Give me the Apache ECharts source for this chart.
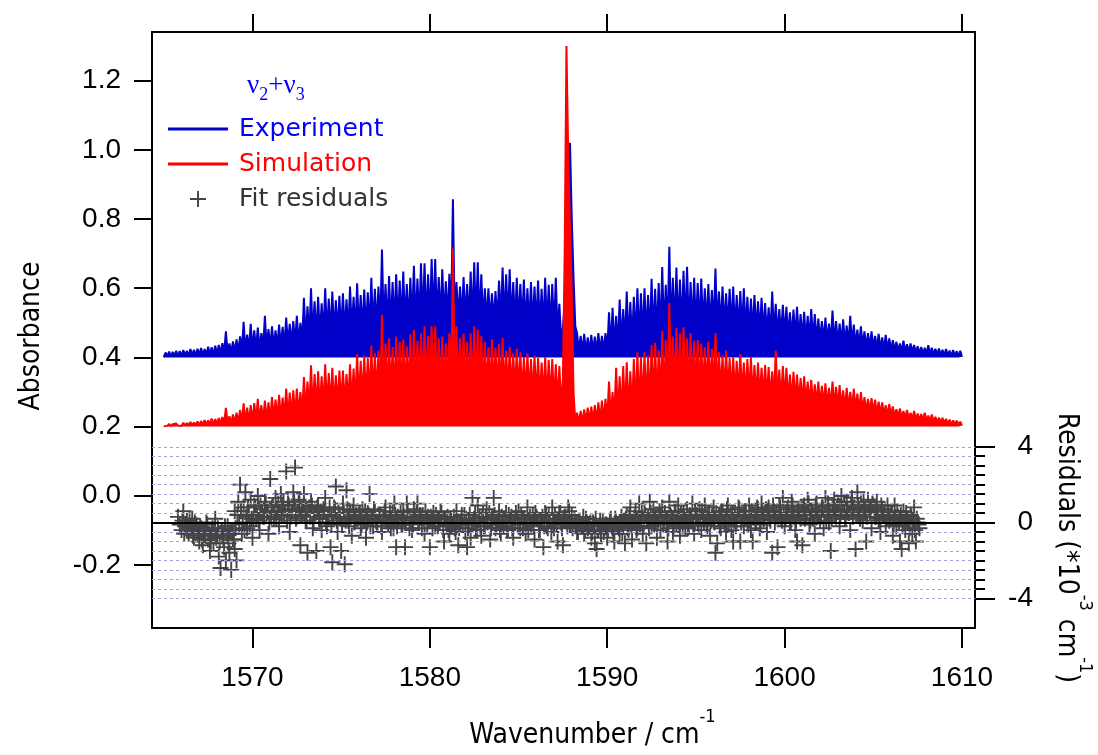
<!DOCTYPE html>
<html><head><meta charset="utf-8">
<script src="https://cdn.jsdelivr.net/npm/echarts@6/dist/echarts.min.js"></script>
<style>html,body{margin:0;padding:0;background:#fff}#c{width:1098px;height:755px}</style>
</head><body><div id="c"></div><script>
// Sampling grid of the spectra (cm-1)
const wnStart = 1565.0, wnStep = 0.1;
const expBaseline = 0.4, simBaseline = 0.2;
// Experiment absorbance, 1565.0 ... 1610.0 step 0.1 (one row per cm-1)
const experiment = [
0.401,0.414,0.403,0.417,0.402,0.416,0.404,0.419,0.403,0.418,
0.404,0.421,0.405,0.419,0.404,0.424,0.406,0.422,0.405,0.425,
0.406,0.427,0.408,0.424,0.407,0.431,0.409,0.429,0.408,0.434,
0.410,0.436,0.411,0.441,0.412,0.475,0.413,0.440,0.414,0.446,
0.415,0.452,0.417,0.461,0.418,0.503,0.420,0.466,0.421,0.497,
0.423,0.478,0.424,0.486,0.425,0.470,0.426,0.520,0.428,0.482,
0.429,0.490,0.430,0.478,0.431,0.495,0.432,0.488,0.433,0.515,
0.436,0.497,0.438,0.505,0.440,0.520,0.442,0.500,0.445,0.572,
0.450,0.548,0.455,0.600,0.458,0.562,0.460,0.575,0.462,0.556,
0.465,0.600,0.466,0.570,0.467,0.590,0.468,0.565,0.470,0.578,
0.470,0.585,0.472,0.568,0.473,0.605,0.474,0.575,0.475,0.614,
0.476,0.580,0.478,0.596,0.479,0.588,0.480,0.630,0.482,0.598,
0.484,0.605,0.485,0.712,0.487,0.612,0.488,0.635,0.490,0.618,
0.492,0.640,0.494,0.622,0.495,0.648,0.496,0.612,0.498,0.630,
0.498,0.665,0.500,0.628,0.502,0.672,0.503,0.672,0.504,0.640,
0.505,0.684,0.507,0.684,0.508,0.632,0.509,0.655,0.510,0.620,
0.510,0.642,0.511,0.857,0.510,0.618,0.509,0.605,0.508,0.632,
0.508,0.612,0.507,0.648,0.506,0.675,0.506,0.675,0.505,0.640,
0.504,0.600,0.503,0.600,0.503,0.585,0.502,0.592,0.502,0.622,
0.501,0.660,0.500,0.640,0.500,0.655,0.499,0.618,0.498,0.630,
0.496,0.612,0.495,0.625,0.493,0.600,0.492,0.618,0.490,0.605,
0.489,0.622,0.487,0.598,0.485,0.630,0.484,0.610,0.482,0.612,
0.478,0.630,0.470,0.555,0.455,0.485,0.560,0.700,0.900,1.020,
0.800,0.630,0.490,0.470,0.418,0.462,0.415,0.468,0.414,0.458,
0.414,0.465,0.415,0.460,0.416,0.470,0.417,0.462,0.418,0.470,
0.420,0.530,0.424,0.543,0.428,0.520,0.432,0.567,0.436,0.540,
0.440,0.590,0.443,0.560,0.446,0.575,0.449,0.600,0.452,0.585,
0.455,0.600,0.458,0.580,0.461,0.627,0.464,0.598,0.467,0.615,
0.470,0.661,0.473,0.610,0.476,0.720,0.478,0.630,0.480,0.660,
0.482,0.625,0.484,0.650,0.486,0.662,0.487,0.618,0.488,0.630,
0.489,0.615,0.490,0.628,0.490,0.600,0.490,0.612,0.489,0.595,
0.488,0.657,0.487,0.590,0.486,0.605,0.485,0.585,0.484,0.598,
0.483,0.605,0.481,0.580,0.480,0.592,0.478,0.600,0.477,0.575,
0.475,0.570,0.474,0.580,0.472,0.562,0.471,0.572,0.469,0.557,
0.468,0.545,0.466,0.590,0.465,0.555,0.463,0.540,0.462,0.552,
0.460,0.546,0.459,0.530,0.457,0.538,0.456,0.546,0.455,0.525,
0.454,0.532,0.452,0.520,0.451,0.540,0.450,0.525,0.448,0.512,
0.447,0.505,0.446,0.515,0.444,0.498,0.443,0.535,0.442,0.505,
0.440,0.498,0.439,0.510,0.438,0.492,0.436,0.520,0.435,0.495,
0.434,0.480,0.432,0.490,0.431,0.475,0.430,0.470,0.428,0.475,
0.427,0.462,0.426,0.468,0.424,0.458,0.423,0.465,0.422,0.455,
0.420,0.450,0.419,0.445,0.418,0.440,0.417,0.448,0.416,0.438,
0.415,0.440,0.414,0.436,0.413,0.432,0.412,0.430,0.411,0.428,
0.410,0.435,0.409,0.428,0.408,0.425,0.407,0.426,0.406,0.422,
0.405,0.424,0.405,0.420,0.404,0.421,0.404,0.418,0.403,0.419,
0.402];
// Simulation absorbance, same grid
const simulation = [
0.201,0.206,0.202,0.208,0.201,0.207,0.202,0.209,0.203,0.208,
0.202,0.211,0.203,0.210,0.203,0.213,0.204,0.212,0.204,0.215,
0.204,0.216,0.205,0.219,0.205,0.218,0.206,0.223,0.206,0.222,
0.207,0.225,0.208,0.228,0.208,0.254,0.209,0.230,0.210,0.235,
0.210,0.240,0.211,0.248,0.212,0.267,0.212,0.255,0.213,0.262,
0.214,0.268,0.215,0.280,0.216,0.262,0.217,0.275,0.218,0.270,
0.219,0.285,0.220,0.278,0.222,0.292,0.223,0.284,0.224,0.310,
0.226,0.298,0.228,0.305,0.230,0.310,0.232,0.300,0.235,0.343,
0.240,0.330,0.244,0.377,0.248,0.352,0.250,0.360,0.252,0.345,
0.255,0.380,0.257,0.355,0.258,0.370,0.260,0.348,0.262,0.362,
0.264,0.362,0.266,0.352,0.268,0.380,0.270,0.368,0.272,0.410,
0.274,0.390,0.276,0.405,0.278,0.398,0.280,0.434,0.282,0.412,
0.284,0.420,0.286,0.523,0.288,0.440,0.290,0.455,0.292,0.430,
0.294,0.460,0.296,0.445,0.297,0.452,0.298,0.432,0.299,0.467,
0.300,0.480,0.301,0.448,0.302,0.470,0.303,0.490,0.304,0.462,
0.305,0.490,0.306,0.490,0.307,0.455,0.308,0.460,0.308,0.440,
0.309,0.470,0.309,0.715,0.309,0.490,0.309,0.455,0.308,0.468,
0.308,0.445,0.308,0.470,0.307,0.490,0.307,0.480,0.306,0.462,
0.305,0.445,0.304,0.430,0.303,0.452,0.302,0.428,0.301,0.440,
0.300,0.457,0.299,0.420,0.298,0.430,0.297,0.412,0.296,0.425,
0.294,0.415,0.292,0.400,0.290,0.412,0.288,0.395,0.286,0.405,
0.284,0.398,0.282,0.385,0.280,0.400,0.278,0.392,0.276,0.395,
0.274,0.380,0.268,0.375,0.260,0.340,0.700,1.300,0.985,0.777,
0.586,0.300,0.212,0.240,0.210,0.245,0.212,0.250,0.213,0.255,
0.214,0.258,0.215,0.262,0.216,0.270,0.217,0.275,0.218,0.280,
0.220,0.330,0.223,0.300,0.226,0.370,0.229,0.345,0.232,0.375,
0.236,0.386,0.240,0.360,0.244,0.395,0.248,0.415,0.252,0.400,
0.256,0.415,0.260,0.405,0.264,0.435,0.268,0.442,0.272,0.420,
0.276,0.477,0.280,0.450,0.284,0.557,0.288,0.460,0.292,0.485,
0.295,0.470,0.298,0.487,0.300,0.455,0.302,0.470,0.303,0.448,
0.304,0.450,0.304,0.440,0.304,0.430,0.303,0.445,0.302,0.425,
0.301,0.470,0.300,0.415,0.299,0.405,0.298,0.420,0.297,0.398,
0.295,0.400,0.294,0.390,0.292,0.410,0.291,0.385,0.290,0.395,
0.288,0.400,0.287,0.378,0.286,0.385,0.284,0.370,0.283,0.378,
0.282,0.372,0.280,0.360,0.279,0.420,0.278,0.365,0.276,0.375,
0.275,0.370,0.274,0.350,0.272,0.358,0.271,0.350,0.270,0.340,
0.268,0.345,0.267,0.330,0.266,0.335,0.264,0.322,0.263,0.330,
0.262,0.318,0.260,0.325,0.259,0.312,0.258,0.330,0.256,0.315,
0.255,0.320,0.254,0.305,0.252,0.312,0.251,0.300,0.250,0.310,
0.248,0.295,0.246,0.300,0.245,0.285,0.243,0.280,0.242,0.282,
0.240,0.278,0.238,0.272,0.236,0.270,0.235,0.262,0.233,0.265,
0.231,0.258,0.229,0.250,0.228,0.252,0.226,0.245,0.225,0.248,
0.223,0.240,0.222,0.245,0.220,0.238,0.219,0.236,0.218,0.240,
0.216,0.232,0.215,0.235,0.214,0.228,0.212,0.226,0.211,0.225,
0.210,0.222,0.208,0.220,0.207,0.218,0.206,0.217,0.205,0.214,
0.203];
// Fit residuals, individual points [wavenumber, residual in 1e-3 cm-1]
const residuals = [
[1565.8,0.3],[1565.9,-0.1],[1566.0,-0.4],[1566.1,0.6],[1566.2,-0.2],[1566.3,0.1],[1566.4,-0.6],[1566.5,-0.3],[1566.6,0.2],[1566.7,-0.8],[1566.8,-0.1],[1566.9,-0.5],[1567.0,-1.0],
[1567.1,-0.3],[1567.2,-1.2],[1567.3,-0.6],[1567.4,0.0],[1567.5,-0.9],[1567.6,-1.5],[1567.7,-0.4],[1567.8,-1.1],[1567.9,0.2],[1568.0,-0.7],[1568.1,-1.8],[1568.2,-2.4],[1568.3,-0.5],[1568.4,-1.3],[1568.5,-2.0],[1568.6,-0.2],[1568.7,-1.6],[1568.8,-2.5],[1568.9,-0.9],[1569.0,0.6],[1569.0,-1.4],[1569.1,-2.0],
[1569.2,1.1],[1569.3,2.0],[1569.4,-0.6],[1569.5,0.8],[1569.6,1.6],[1569.7,-0.3],[1569.8,0.4],[1569.9,1.2],[1570.0,-0.8],[1570.1,0.9],[1570.2,0.2],[1570.3,1.4],[1570.4,-0.4],[1570.5,0.7],
[1570.6,0.3],[1570.7,1.1],[1570.8,0.5],[1570.9,-0.6],[1571.0,2.3],[1571.1,0.8],[1571.2,0.2],[1571.3,1.3],[1571.4,0.6],[1571.5,-0.2],[1571.6,1.5],[1571.7,0.9],[1571.8,0.4],[1571.9,2.7],[1572.0,1.0],[1572.1,-0.5],[1572.2,0.7],[1572.3,1.6],[1572.4,2.9],[1572.5,0.3],[1572.6,1.2],[1572.7,-1.2],[1572.8,0.6],[1572.9,1.5],[1573.0,0.1],[1573.1,-1.6],[1573.2,0.8],[1573.3,1.1],[1573.4,-0.3],
[1573.5,0.5],[1573.6,-1.5],[1573.7,0.9],[1573.8,0.2],[1573.9,-0.4],[1574.0,0.7],[1574.1,1.3],[1574.2,-0.2],[1574.3,0.4],[1574.4,-1.3],[1574.5,-2.1],[1574.6,0.8],[1574.7,1.9],[1574.8,-0.5],[1574.9,0.3],[1575.0,-1.5],[1575.1,1.0],[1575.2,-2.2],[1575.3,1.7],[1575.4,0.1],[1575.5,0.6],[1575.6,-0.7],[1575.7,0.9],[1575.8,0.2],
[1576.0,0.4],[1576.1,-0.3],[1576.2,0.7],[1576.3,0.1],[1576.4,-0.8],[1576.5,0.5],[1576.6,1.5],[1576.7,0.2],[1576.8,-0.2],[1576.9,0.6],[1577.0,0.0],[1577.2,0.4],[1577.3,-0.5],[1577.5,0.8],[1577.6,0.1],[1577.8,-0.3],[1577.9,0.5],[1578.0,1.0],[1578.1,-1.3],[1578.2,0.3],[1578.4,-0.1],[1578.5,0.6],[1578.6,-1.3],[1578.7,1.0],[1578.9,0.2],[1579.0,-0.4],[1579.1,0.7],[1579.3,1.0],[1579.4,0.0],[1579.6,0.4],[1579.7,-0.6],[1579.9,0.3],[1580.0,-1.3],[1580.2,0.5],[1580.3,-0.2],[1580.5,0.2],[1580.6,0.6],[1580.8,-1.0],[1580.9,0.0],
[1581.0,0.3],[1581.1,-0.6],[1581.2,0.1],[1581.4,-0.3],[1581.5,0.6],[1581.6,-1.2],[1581.7,-0.1],[1581.8,0.4],[1582.0,-0.5],[1582.1,-1.3],[1582.2,0.0],[1582.3,-0.8],[1582.4,1.3],[1582.5,0.2],
[1582.6,-0.4],[1582.7,0.9],[1582.8,0.3],[1582.9,-0.7],[1583.0,0.5],[1583.1,-0.2],[1583.2,0.7],[1583.4,-0.9],[1583.5,0.2],[1583.6,1.3],[1583.7,-0.3],[1583.9,0.6],[1584.0,-0.6],[1584.1,0.1],[1584.3,0.5],[1584.4,-0.4],[1584.6,0.3],[1584.7,-0.8],[1584.8,0.0],[1585.0,0.6],[1585.1,-0.3],[1585.3,0.2],[1585.4,-0.6],[1585.5,0.8],[1585.7,-0.1],[1585.8,0.4],[1585.9,-0.9],[1586.0,0.3],[1586.2,-0.4],[1586.3,0.1],[1586.4,-1.3],[1586.5,0.5],
[1586.6,-0.2],[1586.7,0.4],[1586.9,0.8],[1587.0,-0.3],[1587.1,0.2],[1587.2,-1.0],[1587.3,0.5],[1587.4,0.0],[1587.5,-1.2],[1587.6,0.3],[1587.8,0.8],[1587.9,-0.1],[1588.0,0.4],[1588.2,-0.2],
[1588.3,-0.5],[1588.4,0.1],[1588.5,-0.2],[1588.7,-0.6],[1588.8,0.2],[1588.9,-0.3],[1589.1,-0.8],[1589.2,0.0],[1589.3,-1.1],[1589.4,-1.4],[1589.5,-0.4],[1589.6,0.1],[1589.8,-0.5],[1589.9,-0.1],[1590.0,-0.8],[1590.2,0.2],[1590.3,-0.3],[1590.4,-1.0],[1590.5,0.0],[1590.7,-0.6],[1590.8,0.3],[1590.9,-0.2],[1591.0,-1.1],
[1591.1,0.4],[1591.2,-0.4],[1591.3,0.8],[1591.4,-0.9],[1591.5,0.2],[1591.6,0.6],[1591.7,-0.3],[1591.8,1.0],[1591.9,0.1],[1592.0,-0.6],[1592.1,0.5],[1592.2,-1.1],[1592.3,0.3],[1592.4,1.1],[1592.5,-0.2],[1592.6,0.7],[1592.7,0.0],[1592.8,-0.8],[1592.9,0.4],[1593.0,-0.4],[1593.1,0.8],[1593.2,0.1],[1593.4,-1.0],[1593.5,1.1],[1593.6,0.3],[1593.7,-0.5],[1593.8,0.6],[1593.9,-0.1],[1594.0,0.9],[1594.1,-0.7],[1594.2,0.2],[1594.3,0.5],[1594.4,-0.3],
[1594.5,0.7],[1594.6,-0.2],[1594.7,0.3],[1594.8,1.0],[1594.9,-0.6],[1595.0,0.4],[1595.1,0.0],[1595.2,0.7],[1595.3,-0.4],[1595.4,0.2],[1595.5,0.9],[1595.6,-0.1],[1595.7,0.5],[1595.8,-0.7],[1595.9,0.3],[1596.0,0.8],[1596.1,-1.6],[1596.2,-1.1],[1596.3,0.4],[1596.4,-0.3],[1596.5,0.6],[1596.6,0.1],[1596.7,-0.5],[1596.8,0.9],[1596.9,0.2],[1597.0,-0.4],[1597.1,-1.0],[1597.2,0.5],[1597.3,0.1],[1597.4,0.8],
[1597.5,-1.0],[1597.6,0.3],[1597.7,-0.2],[1597.8,0.6],[1597.9,0.1],[1598.0,0.9],[1598.1,-0.4],[1598.2,-1.0],[1598.3,0.4],[1598.4,0.0],[1598.5,0.7],[1598.6,-0.3],[1598.7,1.0],[1598.8,0.2],[1598.9,0.5],[1599.0,-0.5],[1599.1,0.8],[1599.2,0.1],[1599.3,-1.6],[1599.4,0.6],[1599.5,0.3],[1599.6,-1.3],[1599.7,0.9],[1599.8,0.2],[1599.9,1.3],[1600.0,-0.2],[1600.1,0.5],[1600.2,0.8],[1600.3,0.0],[1600.4,1.1],[1600.5,0.3],[1600.6,-0.4],[1600.7,-1.0],[1600.8,0.6],[1600.9,0.2],[1601.0,-1.2],[1601.1,0.9],[1601.2,0.4],[1601.3,1.2],[1601.4,-0.1],[1601.5,0.6],[1601.6,0.2],[1601.7,-0.6],[1601.8,1.0],[1601.9,0.4],[1602.0,0.1],[1602.1,0.8],[1602.2,-0.3],[1602.3,1.3],[1602.4,0.5],[1602.5,0.0],[1602.6,-1.5],
[1602.7,0.7],[1602.8,1.2],[1602.9,0.3],[1603.0,0.9],[1603.1,-0.2],[1603.2,1.4],[1603.3,0.6],[1603.4,0.2],[1603.5,1.1],[1603.6,0.5],[1603.7,-0.4],[1603.8,1.3],[1603.9,0.8],[1604.0,-1.4],[1604.1,1.6],[1604.2,0.4],[1604.3,1.0],[1604.4,0.1],[1604.5,0.7],[1604.6,-1.0],[1604.7,1.2],[1604.8,0.5],[1604.9,-0.3],[1605.0,0.9],[1605.1,0.3],[1605.2,1.1],[1605.3,0.2],[1605.4,-0.5],[1605.5,0.7],[1605.6,0.4],[1605.7,-0.2],[1605.8,0.9],[1605.9,0.1],
[1606.0,0.5],[1606.1,-0.7],[1606.2,0.9],[1606.3,-0.2],[1606.4,0.3],[1606.5,-1.0],[1606.6,-1.4],[1606.7,0.6],[1606.8,-0.4],[1606.9,0.2],[1607.0,-1.1],[1607.1,0.4],[1607.2,-0.6],[1607.3,0.8],[1607.4,-1.0],[1607.5,0.0],[1607.6,-0.3]
];
// Fit residuals on the half-step grid 1566.05 ... 1607.55 (step 0.1), 1e-3 cm-1
const resGridStart = 1566.05, resGridStep = 0.1;
const residualsGrid = [
0.1,-0.6,-0.1,-0.4,0.2,-0.3,-0.7,0.0,-0.2,-0.5,
-0.2,-0.9,-0.4,-0.7,-0.1,-0.6,-1.0,-0.3,-0.5,-0.8,
-0.3,-1.0,-0.5,-0.8,-0.2,-0.7,-1.1,-0.4,-0.6,-0.9,
-0.3,0.4,-0.1,0.6,0.0,-0.4,0.3,0.8,-0.2,0.2,
0.2,0.8,0.4,0.1,0.9,0.5,0.3,1.0,0.6,0.0,
0.3,0.9,0.5,0.2,1.0,0.6,0.4,1.1,0.7,0.1,
0.9,0.3,0.7,1.1,0.2,0.6,1.0,0.4,0.8,0.5,
0.1,0.7,0.3,0.9,0.0,0.5,0.8,0.2,0.6,0.4,
0.6,0.0,0.4,0.8,-0.1,0.3,0.7,0.1,0.5,0.2,
-0.1,0.5,0.1,0.7,-0.2,0.3,0.6,0.0,0.4,0.2,
0.5,-0.1,0.3,0.6,0.0,0.4,-0.2,0.2,0.7,0.1,
0.0,0.4,-0.2,0.3,0.6,0.1,-0.1,0.5,0.2,-0.3,
0.4,-0.2,0.2,0.5,-0.1,0.3,0.0,0.6,-0.3,0.1,
-0.1,0.3,0.5,0.0,0.4,-0.3,0.2,0.6,-0.1,0.1,
0.3,-0.3,0.1,0.4,-0.2,0.0,0.5,-0.4,0.2,-0.1,
-0.4,0.2,-0.2,0.3,-0.5,0.0,-0.3,0.1,-0.1,0.4,
0.2,-0.3,0.4,-0.1,0.0,0.5,-0.4,0.1,-0.2,0.3,
-0.2,0.3,0.0,0.5,-0.3,0.2,0.4,-0.1,0.1,-0.4,
0.3,-0.2,0.1,-0.4,0.4,0.0,-0.3,0.2,0.5,-0.1,
-0.1,0.4,-0.3,0.2,0.0,-0.4,0.3,0.1,-0.2,0.5,
0.2,-0.4,0.0,0.3,-0.2,0.4,-0.3,0.1,-0.5,0.0,
0.4,-0.1,0.2,0.5,-0.3,0.1,0.3,-0.2,0.6,0.0,
-0.3,0.2,-0.1,-0.5,0.1,-0.2,0.3,-0.4,0.0,-0.1,
0.0,-0.5,-0.1,0.2,-0.4,-0.2,-0.6,0.1,-0.3,-0.1,
-0.4,0.1,-0.2,-0.5,0.2,-0.1,-0.3,0.0,-0.6,0.1,
0.2,-0.3,0.4,-0.1,0.0,0.3,-0.4,0.1,-0.2,0.5,
-0.2,0.4,0.1,-0.3,0.5,0.2,-0.1,0.3,0.0,0.6,
0.3,-0.1,0.5,0.0,-0.3,0.4,0.2,-0.2,0.6,0.1,
0.0,0.5,-0.2,0.3,0.1,-0.3,0.4,0.2,-0.1,0.6,
0.4,-0.1,0.2,0.6,0.0,0.3,-0.2,0.5,0.1,0.4,
0.0,0.5,0.2,-0.2,0.6,0.3,0.1,0.7,-0.1,0.4,
0.5,0.1,-0.2,0.4,0.7,0.0,0.3,0.6,0.2,-0.1,
0.1,0.6,0.3,0.0,0.8,0.4,-0.1,0.5,0.2,0.7,
0.6,0.2,0.4,0.9,0.0,0.5,0.3,0.8,0.1,0.4,
0.2,0.7,0.4,0.0,0.9,0.5,0.1,0.6,0.3,0.8,
0.7,0.2,0.5,1.0,0.1,0.6,0.4,0.9,0.3,0.5,
0.3,0.8,0.5,0.1,1.0,0.6,0.2,0.9,0.4,0.7,
0.9,0.4,0.6,1.1,0.2,0.7,0.5,1.0,0.3,0.8,
0.4,0.9,0.2,0.7,1.1,0.5,0.3,0.8,0.6,1.0,
0.8,0.3,0.6,0.1,0.9,0.4,0.7,0.2,0.5,0.3,
0.5,-0.1,0.3,0.6,0.0,0.4,-0.2,0.2,0.5,0.1,
-0.3,0.3,0.0,-0.4,0.2,-0.1
];
// Axis ticks
const xTicks = [1570, 1580, 1590, 1600, 1610];
const absTicks = [-0.2, 0.0, 0.2, 0.4, 0.6, 0.8, 1.0, 1.2];
const resTicks = [-4, 0, 4];
const resMinorTicks = [-4,-3.5,-3,-2.5,-2,-1.5,-1,-0.5,0,0.5,1,1.5,2,2.5,3,3.5,4];
const resGridLines = [-4,-3.5,-3,-2.5,-2,-1.5,-1,-0.5,0.5,1,1.5,2,2.5,3,3.5,4];

const X_MIN = 1564.335, X_MAX = 1610.733;
const Y_MIN = -0.3823, Y_MAX = 1.3406;
const R_MIN = -5.569, R_MAX = 25.90;

const toXY = (arr, start, step, dec) => arr.map((v, i) => [+(start + i * step).toFixed(dec), v]);
const residualPoints = residuals.concat(toXY(residualsGrid, resGridStart, resGridStep, 2));
const plus = 'path://M4.4,0H5.6V4.4H10V5.6H5.6V10H4.4V5.6H0V4.4H4.4Z';
const lineIcon = 'path://M0,0H40V2H0Z';
const LABEL_FONT = "'Liberation Sans',Arial,sans-serif";
const TITLE_FONT = "'DejaVu Sans Condensed','DejaVu Sans',sans-serif";
const TEXT_FONT = "'DejaVu Sans',sans-serif";
const black = '#000';

const chart = echarts.init(document.getElementById('c'), null, {renderer: 'canvas'});
chart.setOption({
  animation: false,
  backgroundColor: '#fff',
  textStyle: {fontFamily: TEXT_FONT},
  grid: {left: 152, top: 32, width: 823, height: 603, containLabel: false},
  title: {
    left: 242, top: 62,
    text: '{n|ν}{s|2}{n|+ν}{s|3}',
    textStyle: {
      rich: {
        n: {fontFamily: "'Liberation Serif',serif", fontSize: 27, fontWeight: 'normal', color: '#0000ff', lineHeight: 32, verticalAlign: 'bottom'},
        s: {fontFamily: "'Liberation Serif',serif", fontSize: 18, fontWeight: 'normal', color: '#0000ff', lineHeight: 32, verticalAlign: 'bottom', padding: [0, 0, -5, 0]}
      }
    }
  },
  legend: {
    orient: 'vertical', left: 168, top: 114, padding: 0, itemWidth: 60, itemHeight: 16, itemGap: 5,
    selectedMode: false,
    textStyle: {fontFamily: TEXT_FONT, fontSize: 25, lineHeight: 30, padding: [0, 0, 0, 6]},
    data: [
      {name: 'Experiment', icon: lineIcon, textStyle: {color: '#0000ff'}},
      {name: 'Simulation', icon: lineIcon, textStyle: {color: '#ff0000'}},
      {name: 'Fit residuals', textStyle: {color: '#333333'}}
    ]
  },
  xAxis: [
    {
      type: 'value', position: 'bottom', min: X_MIN, max: X_MAX,
      axisLine: {onZero: false, lineStyle: {color: black, width: 2}},
      axisTick: {customValues: xTicks, length: 20, lineStyle: {color: black, width: 2}},
      axisLabel: {customValues: xTicks, margin: 36, fontFamily: LABEL_FONT, fontSize: 28, color: black,
                  formatter: v => String(v)},
      splitLine: {show: false},
      name: '{m|Wavenumber / cm}{s|-1}', nameLocation: 'middle', nameGap: 80,
      nameTextStyle: {
        padding: [0, 0, 0, 58],
        rich: {
          m: {fontFamily: TITLE_FONT, fontSize: 28, color: black, lineHeight: 42, verticalAlign: 'bottom'},
          s: {fontFamily: TITLE_FONT, fontSize: 18, color: black, lineHeight: 20, verticalAlign: 'top'}
        }
      }
    },
    {
      type: 'value', position: 'top', min: X_MIN, max: X_MAX,
      axisLine: {onZero: false, lineStyle: {color: black, width: 2}},
      axisTick: {customValues: xTicks, length: 18, lineStyle: {color: black, width: 2}},
      axisLabel: {show: false}, splitLine: {show: false}
    }
  ],
  yAxis: [
    {
      type: 'value', position: 'left', min: Y_MIN, max: Y_MAX,
      axisLine: {onZero: false, lineStyle: {color: black, width: 2}},
      axisTick: {customValues: absTicks, length: 18, lineStyle: {color: black, width: 2}},
      axisLabel: {customValues: absTicks, margin: 31, fontFamily: LABEL_FONT, fontSize: 28, color: black,
                  formatter: v => v.toFixed(1)},
      splitLine: {show: false},
      name: 'Absorbance', nameLocation: 'middle', nameGap: 106,
      nameTextStyle: {fontFamily: TITLE_FONT, fontSize: 28, color: black, padding: [0, 12, 0, 0]}
    },
    {
      type: 'value', position: 'right', min: R_MIN, max: R_MAX,
      axisLine: {onZero: false, lineStyle: {color: black, width: 2}},
      axisTick: {customValues: resTicks, length: 20, lineStyle: {color: black, width: 2}},
      axisLabel: {customValues: resTicks, margin: 58, align: 'right', fontFamily: LABEL_FONT, fontSize: 28, color: black},
      splitLine: {show: false}
    },
    {
      type: 'value', position: 'right', min: R_MIN, max: R_MAX,
      axisLine: {show: false},
      axisTick: {customValues: resMinorTicks, length: 10, lineStyle: {color: black, width: 2}},
      axisLabel: {show: false}, splitLine: {show: false}
    }
  ],
  graphic: [{
    type: 'text', x: 1073, y: 548, rotation: -Math.PI / 2,
    style: {
      text: '{m|Residuals (*10}{s|-3}{m| cm}{s|-1}{m|)}',
      align: 'center', verticalAlign: 'middle',
      rich: {
        m: {fontFamily: TITLE_FONT, fontSize: 28, fill: black, lineHeight: 42, verticalAlign: 'bottom'},
        s: {fontFamily: TITLE_FONT, fontSize: 18, fill: black, lineHeight: 20, verticalAlign: 'top'}
      }
    }
  }],
  series: [
    {
      name: 'Grid', type: 'line', xAxisIndex: 0, yAxisIndex: 1, data: [], z: 1, silent: true,
      markLine: {
        silent: true, symbol: ['none', 'none'], label: {show: false},
        lineStyle: {type: [3, 3], color: '#a4a4dc', width: 1},
        data: resGridLines.map(v => ({yAxis: v})).concat([{yAxis: 0, lineStyle: {type: 'solid', color: black, width: 2}}])
      }
    },
    {
      name: 'Experiment', type: 'line', xAxisIndex: 0, yAxisIndex: 0, data: toXY(experiment, wnStart, wnStep, 1),
      symbol: 'none', showSymbol: false, z: 2,
      lineStyle: {color: '#0000c8', width: 2}, itemStyle: {color: '#0000c8'},
      areaStyle: {color: '#0000c8', opacity: 1, origin: expBaseline}
    },
    {
      name: 'Simulation', type: 'line', xAxisIndex: 0, yAxisIndex: 0, data: toXY(simulation, wnStart, wnStep, 1),
      symbol: 'none', showSymbol: false, z: 3,
      lineStyle: {color: '#ff0000', width: 2}, itemStyle: {color: '#ff0000'},
      areaStyle: {color: '#ff0000', opacity: 1, origin: simBaseline}
    },
    {
      name: 'Fit residuals', type: 'scatter', xAxisIndex: 0, yAxisIndex: 1, data: residualPoints,
      symbol: plus, symbolSize: 16, z: 4,
      itemStyle: {color: '#444444', opacity: 1}
    }
  ]
});
</script></body></html>
